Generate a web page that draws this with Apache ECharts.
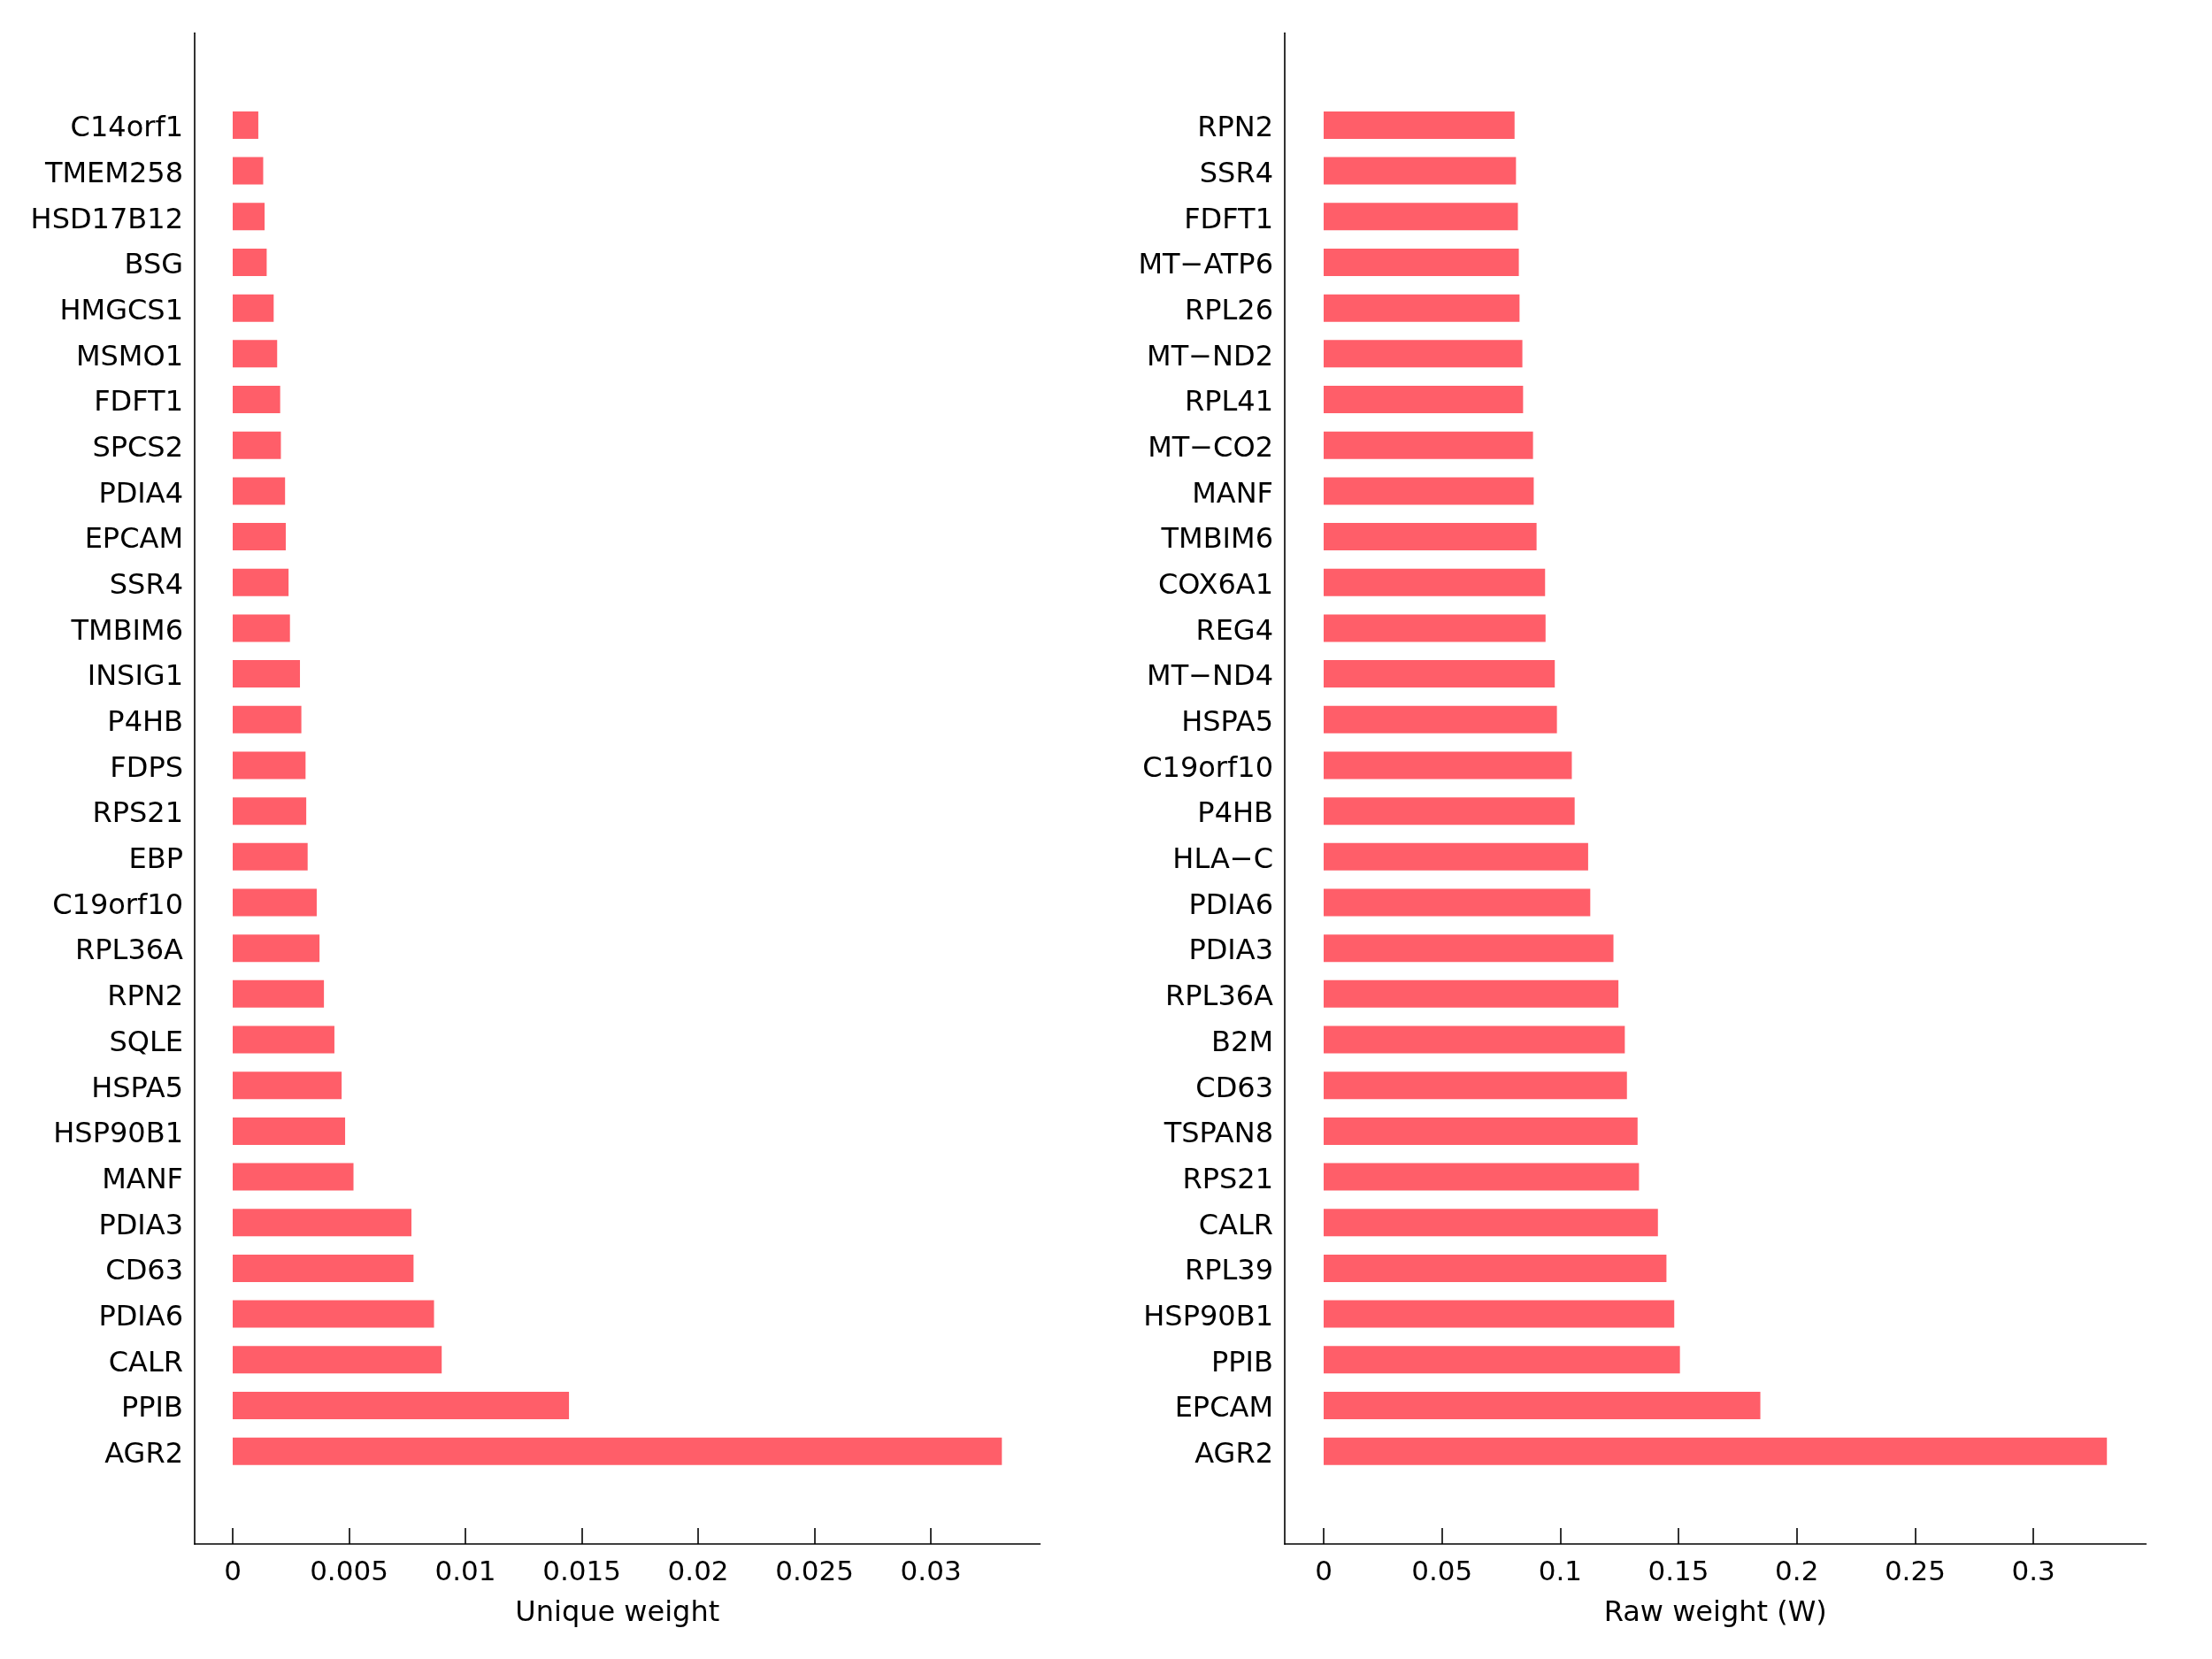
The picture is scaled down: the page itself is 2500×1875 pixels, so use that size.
<!DOCTYPE html>
<html>
<head>
<meta charset="utf-8">
<script src="https://cdn.jsdelivr.net/npm/echarts@6/dist/echarts.min.js"></script>
<style>
html,body{margin:0;padding:0;background:#fff;}
#chart{width:2500px;height:1875px;}
</style>
</head>
<body>
<div id="chart"></div>
<script>
const leftCategories = ['C14orf1','TMEM258','HSD17B12','BSG','HMGCS1','MSMO1','FDFT1','SPCS2','PDIA4','EPCAM','SSR4','TMBIM6','INSIG1','P4HB','FDPS','RPS21','EBP','C19orf10','RPL36A','RPN2','SQLE','HSPA5','HSP90B1','MANF','PDIA3','CD63','PDIA6','CALR','PPIB','AGR2'];
const leftValues = [0.00110,0.00131,0.00137,0.00146,0.00176,0.00191,0.00204,0.00207,0.00225,0.00228,0.00240,0.00246,0.00289,0.00295,0.00313,0.00316,0.00322,0.00361,0.00373,0.00392,0.00437,0.00468,0.00483,0.00519,0.00768,0.00777,0.00865,0.00898,0.01445,0.03305];
const rightCategories = ['RPN2','SSR4','FDFT1','MT\u2212ATP6','RPL26','MT\u2212ND2','RPL41','MT\u2212CO2','MANF','TMBIM6','COX6A1','REG4','MT\u2212ND4','HSPA5','C19orf10','P4HB','HLA\u2212C','PDIA6','PDIA3','RPL36A','B2M','CD63','TSPAN8','RPS21','CALR','RPL39','HSP90B1','PPIB','EPCAM','AGR2'];
const rightValues = [0.0807,0.0813,0.0821,0.0825,0.0828,0.0840,0.0843,0.0885,0.0888,0.0900,0.0936,0.0938,0.0977,0.0986,0.1049,0.1061,0.1118,0.1127,0.1225,0.1246,0.1273,0.1282,0.1327,0.1333,0.1413,0.1449,0.1482,0.1506,0.1846,0.3311];
const leftTicks = [0,0.005,0.01,0.015,0.02,0.025,0.03];
const rightTicks = [0,0.05,0.1,0.15,0.2,0.25,0.3];
const leftTitle = 'Unique weight';
const rightTitle = 'Raw weight (W)';

const FONT = 'DejaVu Sans';
const BAR = '#ff5e69';
const AX = {color:'#000', width:1.6};

function frameAxes(gi){
  return {
    x:{type:'value', gridIndex:gi, show:false, min:0, max:1},
    y:{type:'value', gridIndex:gi, min:0, max:1,
       axisLine:{show:true, onZero:false, lineStyle:AX},
       axisTick:{show:false}, axisLabel:{show:false}, splitLine:{show:false}}
  };
}

function valueAxis(gi, min, max, ticks, name){
  return {
    type:'value', gridIndex:gi, min:min, max:max, offset:79,
    axisLine:{show:true, onZero:false, lineStyle:AX},
    axisTick:{show:true, inside:true, length:18, lineStyle:AX, customValues:ticks},
    axisLabel:{show:true, margin:17, fontFamily:FONT, fontSize:31, color:'#000',
      customValues:ticks, formatter:function(v){return String(v);}},
    splitLine:{show:false},
    name:name, nameLocation:'middle', nameGap:63,
    nameTextStyle:{fontFamily:FONT, fontSize:32, color:'#000'}
  };
}

function catAxis(gi, cats){
  return {
    type:'category', gridIndex:gi, data:cats, inverse:true,
    axisLine:{show:false},
    axisTick:{show:true, inside:true, length:17, alignWithLabel:true, lineStyle:AX},
    axisLabel:{show:true, margin:13, color:'#000', interval:0,
      formatter:function(v){return '{t|' + v + '}';},
      rich:{t:{fontFamily:FONT, fontSize:32, color:'#000', padding:[9,0,0,0]}}},
    splitLine:{show:false}
  };
}

const fL = frameAxes(1), fR = frameAxes(3);

const option = {
  backgroundColor:'#fff',
  animation:false,
  grid:[
    {left:220, top:115.6, width:955.5, height:1550.4},
    {left:220, top:37.3, width:955.5, height:1708},
    {left:1452, top:115.6, width:973.5, height:1550.4},
    {left:1452, top:37.3, width:973.5, height:1708}
  ],
  xAxis:[
    valueAxis(0, -0.001635, 0.034692, leftTicks, leftTitle),
    fL.x,
    valueAxis(2, -0.01646, 0.34766, rightTicks, rightTitle),
    fR.x
  ],
  yAxis:[
    catAxis(0, leftCategories),
    fL.y,
    catAxis(2, rightCategories),
    fR.y
  ],
  series:[
    {type:'bar', xAxisIndex:0, yAxisIndex:0, data:leftValues, barWidth:31,
     itemStyle:{color:BAR}, silent:true},
    {type:'bar', xAxisIndex:2, yAxisIndex:2, data:rightValues, barWidth:31,
     itemStyle:{color:BAR}, silent:true}
  ]
};

const chart = echarts.init(document.getElementById('chart'), null, {renderer:'canvas'});
chart.setOption(option);
</script>
</body>
</html>
